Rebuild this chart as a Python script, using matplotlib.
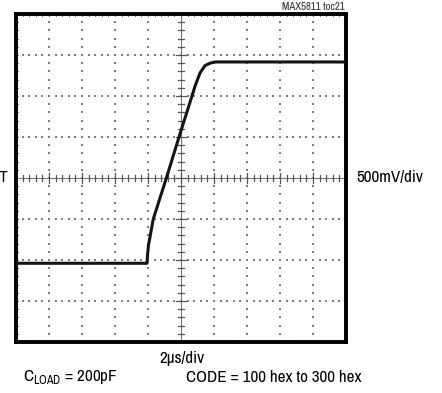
"""
MAX5811 toc21: OUT large-signal step response, scope-style screen.
"""
import matplotlib
matplotlib.use("Agg")
import matplotlib.pyplot as plt
import numpy as np
from matplotlib import font_manager

# trace, read in time (µs) and output voltage (V) relative to screen centre
t_us = [-10.0, -2.06, -2.03, -1.97, -1.88, -1.68, -0.87, -0.12, 0.65,
        0.85, 1.15, 1.45, 1.76, 2.06, 10.0]
v_out = [-1.04, -1.04, -0.94, -0.82, -0.72, -0.50, 0.01, 0.50, 0.99,
         1.12, 1.28, 1.37, 1.40, 1.415, 1.415]

time_per_div = 2.0   # µs
volt_per_div = 0.5   # V
n_xdiv, n_ydiv = 10, 8

chart_id = "MAX5811 toc21"
trace_label = "OUT"
y_scale_label = "500mV/div"
x_scale_label = "2\u00b5s/div"
load_label = r"C$_{\mathrm{LOAD}}$ = 200pF"
code_label = "CODE = 100 hex to 300 hex"

# prefer a narrow face if one is installed, else shrink the regular one a bit
fonts = font_manager.fontManager.ttflist
narrow = None
for f in fonts:
    if "Narrow" in f.name or "Condensed" in f.name:
        narrow = f.name
        break
stretch = "normal"
if narrow is None:
    for f in fonts:
        if f.stretch in ("condensed", "semi-condensed", 75, 87):
            narrow = f.name
            stretch = "condensed"
            break
if narrow is None:
    narrow = "Liberation Sans"
    fs, fs_id = 10.2, 6.6
else:
    fs, fs_id = 12.3, 7.8

plt.rcParams["font.family"] = [narrow, "DejaVu Sans"]
plt.rcParams["font.stretch"] = stretch
plt.rcParams["mathtext.fontset"] = "custom"
plt.rcParams["mathtext.rm"] = narrow

W, H = 442, 393
fig = plt.figure(figsize=(W / 100, H / 100), dpi=100, facecolor="white")
ax = fig.add_axes([16 / W, (H - 342) / H, 330 / W, 328 / H])

xh = n_xdiv / 2 * time_per_div
yh = n_ydiv / 2 * volt_per_div
ax.set_xlim(-xh, xh)
ax.set_ylim(-yh, yh)
ax.set_xticks([])
ax.set_yticks([])
for s in ax.spines.values():
    s.set_linewidth(2.8)
    s.set_color("black")

dot_col = "#7f7f7f"
xs_minor = np.arange(-xh, xh + 1e-9, time_per_div / 5)
ys_minor = np.arange(-yh, yh + 1e-9, volt_per_div / 5)
xs_major = np.arange(-xh + time_per_div, xh - 1e-9, time_per_div)
ys_major = np.arange(-yh + volt_per_div, yh - 1e-9, volt_per_div)

# dotted graticule
for x in xs_major:
    if abs(x) < 1e-9:
        continue
    ax.plot(np.full_like(ys_minor, x), ys_minor, ls="none", marker="s",
            ms=1.6, mew=0, color=dot_col, zorder=1)
for y in ys_major:
    if abs(y) < 1e-9:
        continue
    ax.plot(xs_minor, np.full_like(xs_minor, y), ls="none", marker="s",
            ms=1.6, mew=0, color=dot_col, zorder=1)

# centre axes with minor tick marks
ax.axhline(0, color="#777777", lw=0.8, zorder=1)
ax.axvline(0, color="#777777", lw=0.8, zorder=1)
tx = 0.07 * volt_per_div
ty = 0.09 * time_per_div
for x in xs_minor[1:-1]:
    k = 1.6 if abs((x / time_per_div) - round(x / time_per_div)) < 1e-6 else 1.0
    ax.plot([x, x], [-tx * k, tx * k], color="#555555", lw=0.9, zorder=1)
for y in ys_minor[1:-1]:
    k = 1.6 if abs((y / volt_per_div) - round(y / volt_per_div)) < 1e-6 else 1.0
    ax.plot([-ty * k, ty * k], [y, y], color="#555555", lw=0.9, zorder=1)

# small ticks inside the border
bx = 0.05 * time_per_div
by = 0.05 * volt_per_div
for x in xs_minor[1:-1]:
    ax.plot([x, x], [yh - by, yh], color=dot_col, lw=0.8, zorder=1)
    ax.plot([x, x], [-yh, -yh + by], color=dot_col, lw=0.8, zorder=1)
for y in ys_minor[1:-1]:
    ax.plot([-xh, -xh + bx], [y, y], color=dot_col, lw=0.8, zorder=1)
    ax.plot([xh - bx, xh], [y, y], color=dot_col, lw=0.8, zorder=1)

ax.plot(t_us, v_out, color="#151515", lw=2.2, solid_joinstyle="round",
        solid_capstyle="round", zorder=3)

fig.text(345 / W, 1 - 7 / H, chart_id, ha="right", va="center", fontsize=fs_id,
         color="#333333")
fig.text(8 / W, 1 - 178 / H, trace_label, ha="right", va="center", fontsize=fs)
fig.text(356 / W, 1 - 178 / H, y_scale_label, ha="left", va="center", fontsize=fs)
fig.text(182 / W, 1 - 358 / H, x_scale_label, ha="center", va="center", fontsize=fs)
fig.text(23 / W, 1 - 377 / H, load_label, ha="left", va="center", fontsize=fs)
fig.text(186 / W, 1 - 377 / H, code_label, ha="left", va="center", fontsize=fs)

fig.savefig("out.png", dpi=100, facecolor="white")
